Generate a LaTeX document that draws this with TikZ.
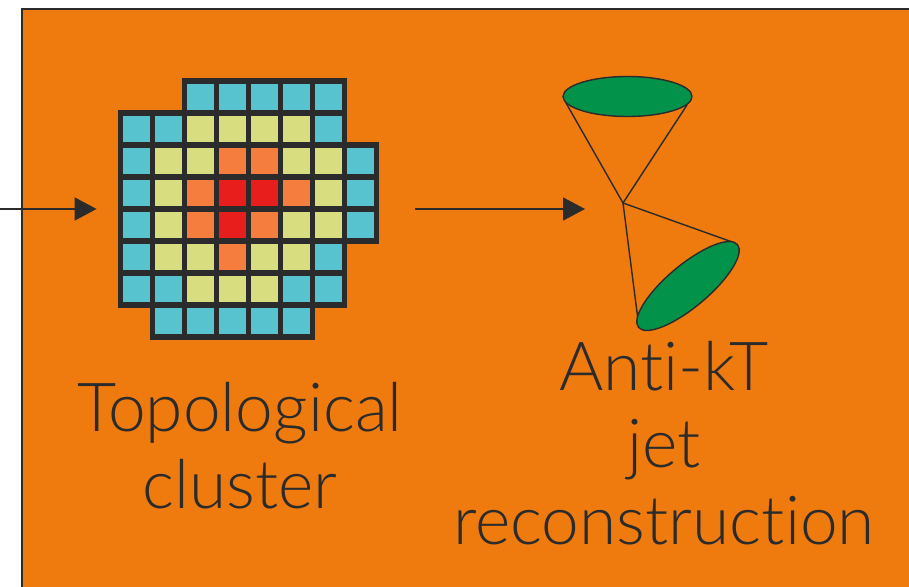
\documentclass[tikz,border=0pt]{standalone}
\usepackage{fontspec}
\setmainfont{Lato Light}[Ligatures={NoCommon,NoRare}]
\usepackage{xcolor}
\usepackage{tikz}
\usetikzlibrary{arrows.meta, positioning, calc}

\definecolor{panel}{HTML}{EF7B0E}
\definecolor{ink}{HTML}{2B2B2B}
\definecolor{cy}{HTML}{56C3CF}
\definecolor{yl}{HTML}{D8DD80}
\definecolor{og}{HTML}{F57E3F}
\definecolor{rd}{HTML}{E81E1C}
\definecolor{jetgreen}{HTML}{03924A}

\begin{document}
\begin{tikzpicture}[x=0.02cm, y=-0.02cm,
    cell/.style={draw=ink, line width=3pt},
    flow/.style={draw=ink, line width=1pt, -{Triangle[length=0.44cm, width=0.46cm]}},
    coneline/.style={draw=ink, line width=0.8pt},
    jetcap/.style={draw=ink, line width=0.8pt, fill=jetgreen},
    caption/.style={align=center, inner sep=0pt, text=ink, font=\fontsize{38.5}{44}\selectfont}]

    \useasboundingbox (0,0) rectangle (909,587);
    \fill [white] (0,0) rectangle (909,587);
    \draw [draw=ink, line width=0.85pt, fill=panel] (22,9) rectangle (940,600);

    % calorimeter cells, row by row
    \foreach \r/\s/\cells in {0/2/{cy,cy,cy,cy,cy},
                              1/0/{cy,cy,yl,yl,yl,yl,cy},
                              2/0/{cy,yl,yl,og,og,yl,yl,cy},
                              3/0/{cy,yl,og,rd,rd,og,yl,cy},
                              4/0/{cy,yl,og,rd,og,yl,yl,cy},
                              5/0/{cy,yl,yl,og,yl,yl,cy},
                              6/0/{cy,cy,yl,yl,yl,cy,cy},
                              7/1/{cy,cy,cy,cy,cy}}
        \foreach \c [count=\k from \s] in \cells
            \draw [cell, fill=\c] ({120.4+32*\k},{81+32*\r}) rectangle +(32,32);

    \node (cluster) [minimum width=5.12cm, minimum height=5.12cm, inner sep=0pt] at (248.4,209) {};
    \coordinate (in) at (-5,209);
    \coordinate (apex) at (623,203);

    % the two jets
    \draw [coneline] (566,103) -- (apex) -- (687,105);
    \draw [jetcap] (627.5,96.5) ellipse [x radius=1.29cm, y radius=0.4cm];
    \draw [coneline] (735,243) -- (apex) -- (638,320);
    \begin{scope}[shift={(688,286)}, rotate=40]
        \draw [jetcap] (0,0) ellipse [x radius=1.29cm, y radius=0.42cm];
    \end{scope}

    \draw [flow] (in) -- ([xshift=-0.47cm]cluster.west);
    \draw [flow] ([xshift=0.77cm]cluster.east) -- ([xshift=-0.76cm]apex |- cluster.east);

    \node (topo) [caption] at (240,446) {Topological\\cluster};
    \node (antikt) [caption] at (664,443) {Anti-kT\\jet\\reconstruction};
\end{tikzpicture}
\end{document}
